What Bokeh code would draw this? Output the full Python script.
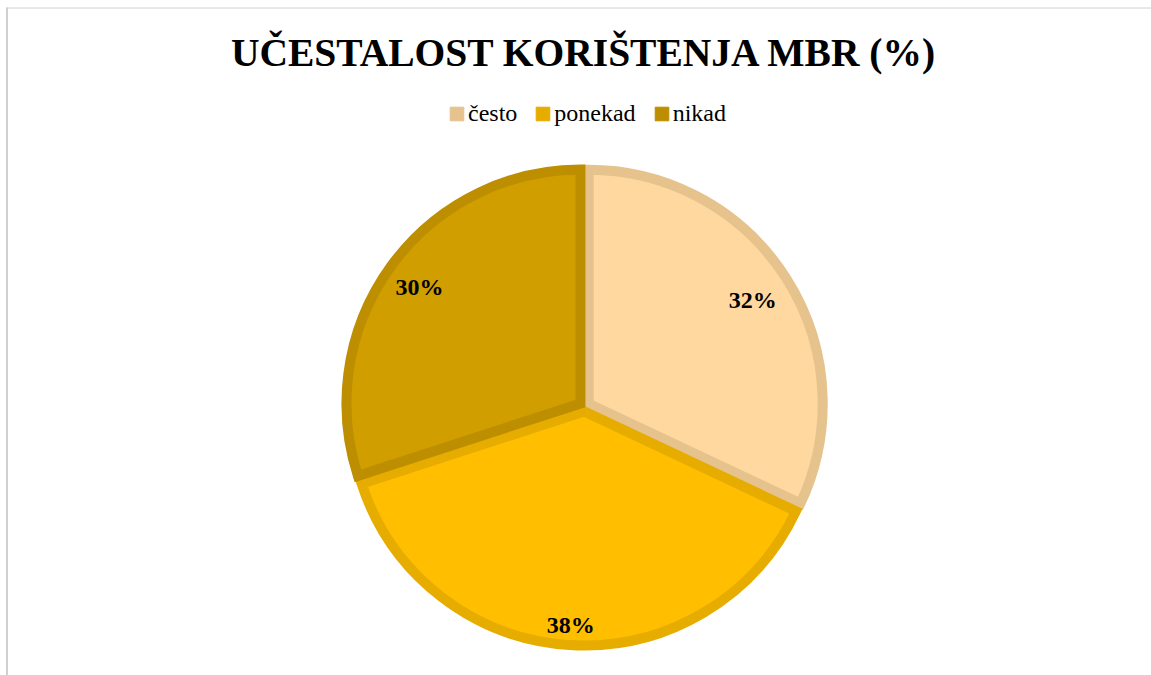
import numpy as np
from bokeh.plotting import figure
from bokeh.models import ColumnDataSource, Range1d, Label, Legend, LegendItem
from bokeh.core.properties import value
from bokeh.embed import file_html
from bokeh.resources import INLINE

# ---- data ----
categories = ["često", "ponekad", "nikad"]
values = [32, 38, 30]
fill_colors = ["#FFD8A0", "#FFBF00", "#D19E00"]
line_colors = ["#E6C28D", "#E6AC00", "#BD8E00"]
title_text = "UČESTALOST KORIŠTENJA MBR (%)"

# ---- layout ----
W, H = 1151, 675
CX, CY = 584, H - 406
R = 234
EXPLODE = 5
LW = 10
label_r = [0.83, 0.915, 0.85]

vals = np.array(values, dtype=float)
frac = vals / vals.sum()
cum = np.cumsum(frac)
start_frac = cum - frac
start = np.pi / 2 - 2 * np.pi * start_frac
end = np.pi / 2 - 2 * np.pi * cum
mid = np.pi / 2 - 2 * np.pi * (start_frac + frac / 2)
xs = CX + EXPLODE * np.cos(mid)
ys = CY + EXPLODE * np.sin(mid)
lr = np.array(label_r) * R
lx = xs + lr * np.cos(mid)
ly = ys + lr * np.sin(mid)

src = ColumnDataSource(dict(
    cat=categories, x=xs, y=ys, start=start, end=end,
    fill=fill_colors, line=line_colors,
    lx=lx, ly=ly, lab=[f"{v}%" for v in values],
))

p = figure(width=W, height=H, x_range=Range1d(0, W), y_range=Range1d(0, H),
           x_axis_type=None, y_axis_type=None, toolbar_location=None,
           output_backend="svg", min_border=0, outline_line_color=None,
           background_fill_color="white", border_fill_color="white")
p.grid.visible = False

# chart area border
p.segment(x0=[6.5], y0=[H - 7], x1=[6.5], y1=[0], line_color="#D0D0D0", line_width=2)
p.segment(x0=[6], y0=[H - 7.5], x1=[W], y1=[H - 7.5], line_color="#D0D0D0", line_width=1)

p.wedge(x="x", y="y", radius=R, start_angle="start", end_angle="end",
        direction="clock", fill_color="fill", line_color="line",
        line_width=LW, line_join="miter", source=src)

p.text(x="lx", y="ly", text="lab", source=src,
       text_font=value("Liberation Serif"), text_font_style="bold",
       text_font_size="24px", text_align="center", text_baseline="middle",
       text_color="black")

# legend with square swatches (swatch renderers sit outside the visible range)
items = []
for cat, lc in zip(categories, line_colors):
    r = p.quad(left=[-100], right=[-90], top=[-90], bottom=[-100],
               fill_color=lc, line_color=lc, line_width=1)
    items.append(LegendItem(label=cat, renderers=[r]))
legend = Legend(items=items, orientation="horizontal", location=(448, 548),
                label_text_font="Liberation Serif", label_text_font_size="24px",
                label_text_color="black", label_standoff=3, spacing=17,
                glyph_width=17, glyph_height=17, padding=0, margin=0,
                border_line_color=None, background_fill_alpha=0)
p.add_layout(legend)

p.add_layout(Label(x=CX, y=H - 52, text=title_text, text_font="Liberation Serif",
                   text_font_style="bold", text_font_size="39.5px",
                   text_align="center", text_baseline="middle", text_color="black"))

open("out.html", "w").write(file_html(p, INLINE))
